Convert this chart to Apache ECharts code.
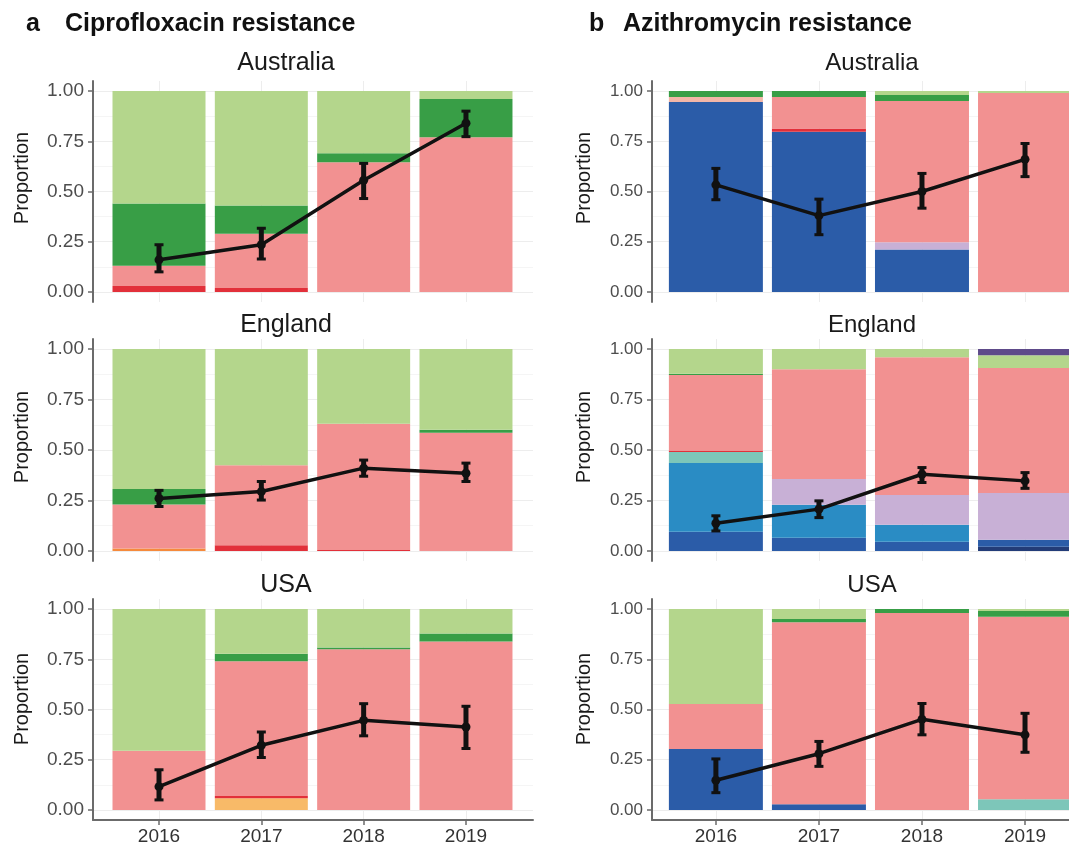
<!DOCTYPE html>
<html><head><meta charset="utf-8">
<script src="https://cdn.jsdelivr.net/npm/echarts@6/dist/echarts.min.js"></script>
<style>html,body{margin:0;padding:0;background:#fff}#c{width:1069px;height:845px}</style>
</head><body><div id="c"></div>
<script>
// ---------- categories / ticks ----------
const years = ['2016', '2017', '2018', '2019'];
const countries = ['Australia', 'England', 'USA'];
const panelTitles = ['Ciprofloxacin resistance', 'Azithromycin resistance'];
const panelLetters = ['a', 'b'];
const yTicks = [0, 0.25, 0.5, 0.75, 1];
const yTickLabels = ['0.00', '0.25', '0.50', '0.75', '1.00'];
const yMinorTicks = [0.125, 0.375, 0.625, 0.875];
const axisTitle = 'Proportion';

// ---------- a: Ciprofloxacin (segment heights, bottom -> top) ----------
const cipAusRed        = [0.03, 0.02, 0, 0];
const cipAusPink       = [0.10, 0.27, 0.645, 0.77];
const cipAusDarkGreen  = [0.31, 0.14, 0.045, 0.19];
const cipAusLightGreen = [0.56, 0.57, 0.31, 0.04];
const cipAusMean = [0.16, 0.235, 0.556, 0.84];
const cipAusLow  = [0.10, 0.164, 0.465, 0.773];
const cipAusHigh = [0.235, 0.317, 0.64, 0.90];

const cipEngOrange     = [0.012, 0, 0, 0];
const cipEngRed        = [0, 0.028, 0.005, 0];
const cipEngPink       = [0.218, 0.396, 0.625, 0.585];
const cipEngDarkGreen  = [0.077, 0, 0, 0.015];
const cipEngLightGreen = [0.693, 0.576, 0.37, 0.40];
const cipEngMean = [0.26, 0.294, 0.41, 0.385];
const cipEngLow  = [0.22, 0.252, 0.37, 0.344];
const cipEngHigh = [0.30, 0.344, 0.45, 0.435];

const cipUsaLightOrange = [0, 0.058, 0, 0];
const cipUsaRed         = [0, 0.012, 0, 0];
const cipUsaPink        = [0.295, 0.67, 0.80, 0.838];
const cipUsaDarkGreen   = [0, 0.037, 0.008, 0.04];
const cipUsaLightGreen  = [0.705, 0.223, 0.192, 0.122];
const cipUsaMean = [0.116, 0.322, 0.446, 0.413];
const cipUsaLow  = [0.05, 0.261, 0.369, 0.306];
const cipUsaHigh = [0.20, 0.388, 0.529, 0.516];

// ---------- b: Azithromycin ----------
const aziAusDarkBlue    = [0.945, 0.797, 0.211, 0];
const aziAusLightPurple = [0, 0, 0.037, 0];
const aziAusRed         = [0, 0.016, 0, 0];
const aziAusPale        = [0.025, 0, 0, 0];
const aziAusPink        = [0, 0.157, 0.702, 0.99];
const aziAusDarkGreen   = [0.03, 0.03, 0.03, 0];
const aziAusLightGreen  = [0, 0, 0.02, 0.01];
const aziAusMean = [0.533, 0.38, 0.50, 0.66];
const aziAusLow  = [0.459, 0.285, 0.417, 0.574];
const aziAusHigh = [0.615, 0.462, 0.59, 0.739];

const aziEngNavy        = [0, 0, 0, 0.02];
const aziEngDarkBlue    = [0.095, 0.065, 0.045, 0.035];
const aziEngMediumBlue  = [0.341, 0.164, 0.084, 0];
const aziEngTeal        = [0.054, 0, 0, 0];
const aziEngLightPurple = [0, 0.127, 0.148, 0.232];
const aziEngRed         = [0.008, 0, 0, 0];
const aziEngPink        = [0.374, 0.544, 0.683, 0.619];
const aziEngDarkGreen   = [0.006, 0, 0, 0];
const aziEngLightGreen  = [0.122, 0.10, 0.04, 0.064];
const aziEngDarkPurple  = [0, 0, 0, 0.03];
const aziEngMean = [0.137, 0.207, 0.38, 0.347];
const aziEngLow  = [0.099, 0.165, 0.339, 0.31];
const aziEngHigh = [0.174, 0.248, 0.413, 0.388];

const aziUsaDarkBlue   = [0.303, 0.028, 0, 0];
const aziUsaTeal       = [0, 0, 0, 0.053];
const aziUsaPink       = [0.224, 0.906, 0.98, 0.909];
const aziUsaDarkGreen  = [0, 0.016, 0.02, 0.028];
const aziUsaLightGreen = [0.473, 0.05, 0, 0.01];
const aziUsaMean = [0.148, 0.28, 0.451, 0.374];
const aziUsaLow  = [0.086, 0.217, 0.374, 0.287];
const aziUsaHigh = [0.254, 0.341, 0.53, 0.481];

// ---------- styles ----------
const colors = {
  lightOrange: '#F8BA68', orange: '#F58A3C', red: '#E2303A', navy: '#233C78',
  darkBlue: '#2B5CA8', mediumBlue: '#2A8CC4', teal: '#7DC6B9', lightPurple: '#C8B0D6',
  pale: '#F2B6A8', pink: '#F29191', darkGreen: '#389E46', lightGreen: '#B4D68C',
  darkPurple: '#5E4A8A'
};
const FONT = '"Liberation Sans", Arial, Helvetica, sans-serif';

const panels = [
  {col: 0, row: 0, segs: [['red', cipAusRed], ['pink', cipAusPink], ['darkGreen', cipAusDarkGreen], ['lightGreen', cipAusLightGreen]], mean: cipAusMean, low: cipAusLow, high: cipAusHigh},
  {col: 0, row: 1, segs: [['orange', cipEngOrange], ['red', cipEngRed], ['pink', cipEngPink], ['darkGreen', cipEngDarkGreen], ['lightGreen', cipEngLightGreen]], mean: cipEngMean, low: cipEngLow, high: cipEngHigh},
  {col: 0, row: 2, segs: [['lightOrange', cipUsaLightOrange], ['red', cipUsaRed], ['pink', cipUsaPink], ['darkGreen', cipUsaDarkGreen], ['lightGreen', cipUsaLightGreen]], mean: cipUsaMean, low: cipUsaLow, high: cipUsaHigh},
  {col: 1, row: 0, segs: [['darkBlue', aziAusDarkBlue], ['lightPurple', aziAusLightPurple], ['red', aziAusRed], ['pale', aziAusPale], ['pink', aziAusPink], ['darkGreen', aziAusDarkGreen], ['lightGreen', aziAusLightGreen]], mean: aziAusMean, low: aziAusLow, high: aziAusHigh},
  {col: 1, row: 1, segs: [['navy', aziEngNavy], ['darkBlue', aziEngDarkBlue], ['mediumBlue', aziEngMediumBlue], ['teal', aziEngTeal], ['lightPurple', aziEngLightPurple], ['red', aziEngRed], ['pink', aziEngPink], ['darkGreen', aziEngDarkGreen], ['lightGreen', aziEngLightGreen], ['darkPurple', aziEngDarkPurple]], mean: aziEngMean, low: aziEngLow, high: aziEngHigh},
  {col: 1, row: 2, segs: [['darkBlue', aziUsaDarkBlue], ['teal', aziUsaTeal], ['pink', aziUsaPink], ['darkGreen', aziUsaDarkGreen], ['lightGreen', aziUsaLightGreen]], mean: aziUsaMean, low: aziUsaLow, high: aziUsaHigh}
];

// ---------- layout ----------
const colLeft = [93, 652];
const gridW = 440;
const rowTop = [81, 339, 599];
const rowH = [221, 222, 221];
const xMin = [0.355, 0.38];
const xMax = [4.655, 4.65];
const barW = [93, 94];
const yLabelSize = [19, 17];
const stripX = [286, 872];
const stripY = [63, 325, 585];
const nameX = [22, 584];
const nameY = [178, 437, 699];
const axisColor = '#6b6b6b';

const grids = [], xAxes = [], yAxes = [], yMinor = [], series = [];
panels.forEach((p, i) => {
  grids.push({left: colLeft[p.col], top: rowTop[p.row], width: gridW, height: rowH[p.row], containLabel: false, outerBoundsMode: 'none'});
  const bottom = p.row === 2;
  xAxes.push({
    type: 'value', gridIndex: i, min: xMin[p.col], max: xMax[p.col],
    axisLine: {show: bottom, onZero: false, lineStyle: {color: axisColor, width: 2}},
    axisTick: {show: bottom, customValues: [1, 2, 3, 4], length: 5, lineStyle: {color: axisColor, width: 1.5}},
    axisLabel: {show: bottom, customValues: [1, 2, 3, 4], formatter: v => years[Math.round(v) - 1], fontSize: 19, color: '#333', fontFamily: FONT, margin: 7},
    splitLine: {show: true, lineStyle: {color: '#ededed', width: 1}}
  });
  yAxes.push({
    type: 'value', gridIndex: i, min: -0.05, max: 1.05, position: 'left',
    axisLine: {show: true, onZero: false, lineStyle: {color: axisColor, width: 2}},
    axisTick: {show: true, customValues: yTicks, length: 5, lineStyle: {color: axisColor, width: 1.5}},
    axisLabel: {show: true, customValues: yTicks, formatter: v => yTickLabels[yTicks.indexOf(+v.toFixed(3))] ?? '', fontSize: yLabelSize[p.col], color: '#4d4d4d', fontFamily: FONT, margin: 9},
    splitLine: {show: true, lineStyle: {color: '#ededed', width: 1}}
  });
  yMinor.push({
    type: 'value', gridIndex: i, min: -0.05, max: 1.05, position: 'left',
    axisLine: {show: false}, axisTick: {show: false, customValues: yMinorTicks},
    axisLabel: {show: false, customValues: yMinorTicks},
    splitLine: {show: true, lineStyle: {color: '#f5f5f5', width: 1}}
  });
  // stacked bar segments: base accumulates per year
  const base = [0, 0, 0, 0];
  p.segs.forEach(([key, arr]) => {
    const data = arr.map((v, k) => {
      const d = [k + 1, base[k], base[k] + v];
      base[k] += v;
      return d;
    });
    const w = barW[p.col];
    series.push({
      type: 'custom', name: key, xAxisIndex: i, yAxisIndex: i, silent: true, z: 2,
      encode: {x: 0, y: [1, 2]},
      data: data,
      renderItem: (params, api) => {
        if (api.value(2) - api.value(1) <= 0) return null;
        const b = api.coord([api.value(0), api.value(1)]);
        const t = api.coord([api.value(0), api.value(2)]);
        return {type: 'rect', shape: {x: b[0] - w / 2, y: t[1], width: w, height: b[1] - t[1]},
                style: {fill: colors[key]}};
      }
    });
  });
  series.push({
    type: 'line', xAxisIndex: i, yAxisIndex: i, z: 5, silent: true,
    data: p.mean.map((v, k) => [k + 1, v]),
    lineStyle: {color: '#111', width: 3.5},
    symbol: 'circle', symbolSize: 9, itemStyle: {color: '#111'}
  });
  series.push({
    type: 'custom', xAxisIndex: i, yAxisIndex: i, z: 6, silent: true,
    data: p.low.map((v, k) => [k + 1, v, p.high[k]]),
    encode: {x: 0, y: [1, 2]},
    renderItem: (params, api) => {
      const x = api.value(0);
      const lo = api.coord([x, api.value(1)]);
      const hi = api.coord([x, api.value(2)]);
      const cw = 4.5;
      return {type: 'group', children: [
        {type: 'line', shape: {x1: lo[0], y1: lo[1], x2: hi[0], y2: hi[1]}, style: {stroke: '#111', lineWidth: 5}},
        {type: 'line', shape: {x1: lo[0] - cw, y1: lo[1], x2: lo[0] + cw, y2: lo[1]}, style: {stroke: '#111', lineWidth: 3}},
        {type: 'line', shape: {x1: hi[0] - cw, y1: hi[1], x2: hi[0] + cw, y2: hi[1]}, style: {stroke: '#111', lineWidth: 3}}
      ]};
    }
  });
});

const graphics = [];
[0, 1].forEach(c => {
  graphics.push({type: 'text', x: c === 0 ? 26 : 589, y: 24, style: {text: panelLetters[c], fontSize: 25, fontWeight: 'bold', fontFamily: FONT, fill: '#111', align: 'left', verticalAlign: 'middle'}});
  graphics.push({type: 'text', x: c === 0 ? 65 : 623, y: 24, style: {text: panelTitles[c], fontSize: 25, fontWeight: 'bold', fontFamily: FONT, fill: '#111', align: 'left', verticalAlign: 'middle'}});
  countries.forEach((name, r) => {
    graphics.push({type: 'text', x: stripX[c], y: stripY[r], style: {text: name, fontSize: c === 0 ? 25 : 24, fontFamily: FONT, fill: '#1a1a1a', align: 'center', verticalAlign: 'middle'}});
    graphics.push({type: 'text', x: nameX[c], y: nameY[r], rotation: Math.PI / 2, style: {text: axisTitle, fontSize: 20, fontFamily: FONT, fill: '#1a1a1a', align: 'center', verticalAlign: 'middle'}});
  });
});

const chart = echarts.init(document.getElementById('c'), null, {renderer: 'canvas'});
chart.setOption({
  animation: false,
  backgroundColor: '#fff',
  grid: grids,
  xAxis: xAxes,
  yAxis: yAxes.concat(yMinor.map((a, i) => Object.assign(a, {gridIndex: i}))),
  series: series,
  graphic: graphics
});
</script>
</body></html>
